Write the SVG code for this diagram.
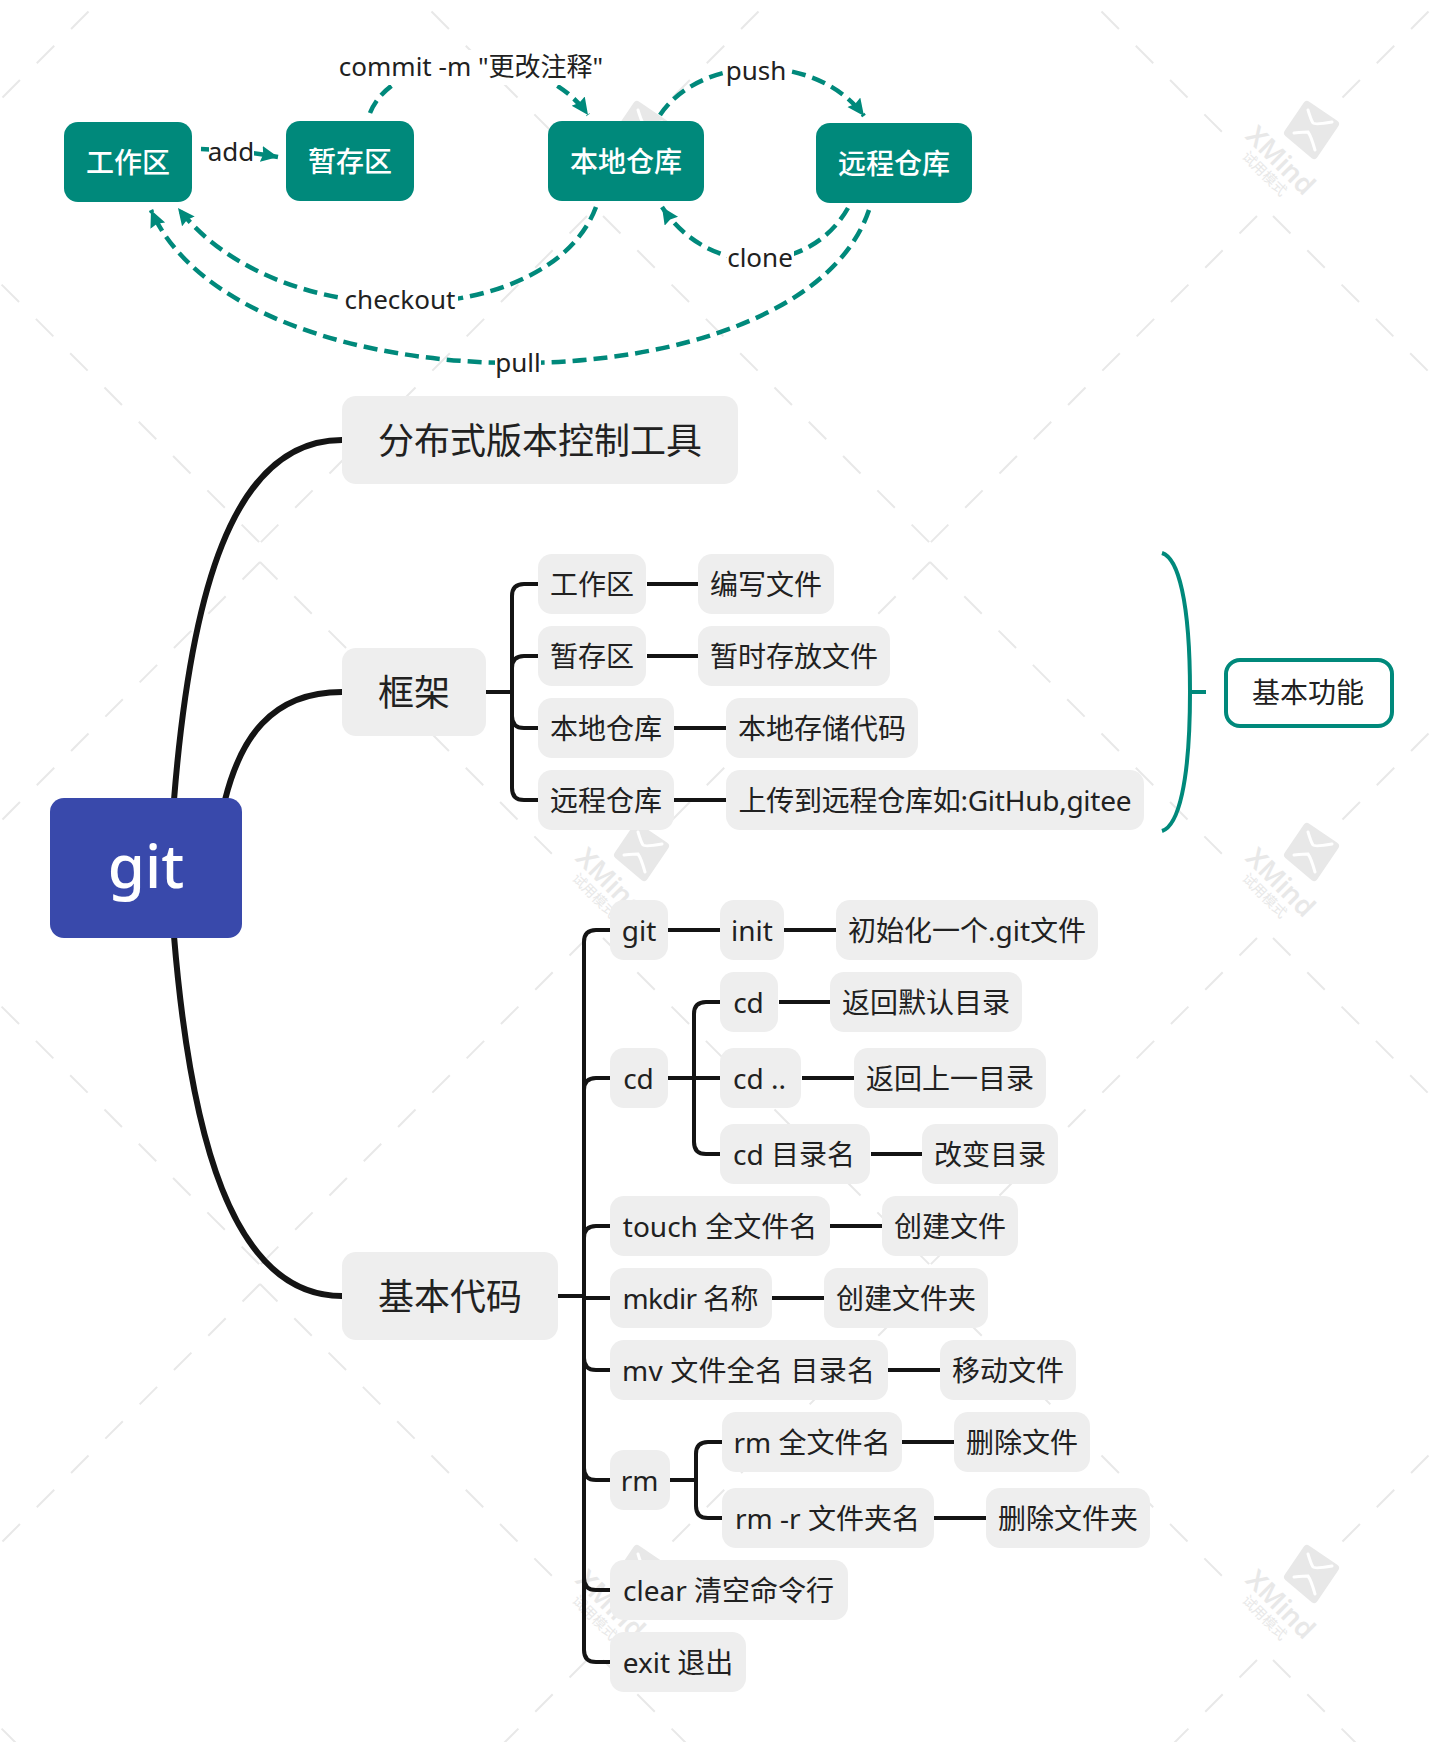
<svg xmlns="http://www.w3.org/2000/svg" xmlns:xlink="http://www.w3.org/1999/xlink" width="1442" height="1742" viewBox="0 0 1442 1742">
<style>
text{font-family:"Noto Sans","Noto Sans CJK SC",sans-serif;fill:#212121;text-anchor:middle}
.n{fill:#eeeeee}
.t{fill:#00897b}
.w{fill:#fff;font-size:28px;font-weight:500}
.s1{font-size:36px}
.s2{font-size:28px}
.w,.s1,.s2{transform:translateY(1px)}
.l{font-size:26px}
.bg{fill:#fff}
.c1{fill:none;stroke:#141414;stroke-width:6}
.c2{fill:none;stroke:#141414;stroke-width:4}
.rel{fill:none;stroke:#00897b;stroke-width:4.500;stroke-dasharray:14 7;marker-end:url(#arr)}
.d0{stroke:#e8e8e8;stroke-width:2;stroke-dasharray:24.7 23.8;fill:none}
.wt{fill:#e8e8e8;text-anchor:middle}
</style>
<defs>
<marker id="arr" markerUnits="userSpaceOnUse" markerWidth="20" markerHeight="18" refX="17" refY="8" orient="auto"><path d="M0,0L17,8L0,16L2,8Z" fill="#00897b"/></marker>
<g id="wm">
<line class="d0" x1="-335" y1="-336" x2="-43" y2="-44"/>
<line class="d0" x1="335" y1="-336" x2="77" y2="-78"/>
<line class="d0" x1="8" y1="40" x2="335" y2="367"/>
<line class="d0" x1="-8" y1="40" x2="-335" y2="367"/>
<path d="M42,-71L70,-52L49,-21L23,-43Z" fill="#e8e8e8" stroke="#e8e8e8" stroke-width="8" stroke-linejoin="round"/>
<path d="M43,-66Q46,-56 48,-53Q50,-51 67,-54M29,-43Q40,-44 43,-44Q46,-40 50,-26" fill="none" stroke="#fff" stroke-width="3" stroke-linecap="round"/>
<text class="wt" transform="translate(9,-9) rotate(45)" style="font-size:27px;font-weight:600;font-family:'Noto Sans',sans-serif">XMind</text>
<text class="wt" transform="translate(-4,1) rotate(45)" style="font-size:14px;font-family:'Noto Sans CJK SC',sans-serif">试用模式</text>
</g>
</defs>
<rect width="1442" height="1742" fill="#fff"/>
<g id="watermark">
<use xlink:href="#wm" href="#wm" x="-75" y="176"/><use xlink:href="#wm" href="#wm" x="595" y="176"/><use xlink:href="#wm" href="#wm" x="1265" y="176"/>
<use xlink:href="#wm" href="#wm" x="-75" y="898"/><use xlink:href="#wm" href="#wm" x="595" y="898"/><use xlink:href="#wm" href="#wm" x="1265" y="898"/>
<use xlink:href="#wm" href="#wm" x="-75" y="1620"/><use xlink:href="#wm" href="#wm" x="595" y="1620"/><use xlink:href="#wm" href="#wm" x="1265" y="1620"/>
</g>
<g id="connectors">
<path class="c1" d="M174,800C190,600 230,440 342,440"/>
<path class="c1" d="M225,800C240,740 270,692 342,692"/>
<path class="c1" d="M174,936C190,1130 230,1296 342,1296"/>
<path class="c2" d="M538,584H524Q512,584 512,596V788Q512,800 524,800H538M512,668Q512,656 524,656H538M512,716Q512,728 524,728H538M486,692H512"/>
<path class="c2" d="M647,584H698M647,656H698M674,728H726M674,800H726"/>
<path class="c2" d="M610,930H596Q584,930 584,942V1650Q584,1662 596,1662H610M584,1090Q584,1078 596,1078H610M584,1238Q584,1226 596,1226H610M558,1296H584M584,1298H610M584,1358Q584,1370 596,1370H610M584,1468Q584,1480 596,1480H610M584,1578Q584,1590 596,1590H610"/>
<path class="c2" d="M668,930H720M784,930H836"/>
<path class="c2" d="M720,1002H706Q694,1002 694,1014V1142Q694,1154 706,1154H720M668,1078H720M779,1002H830M802,1078H854M871,1154H922"/>
<path class="c2" d="M830,1226H882M772,1298H824M888,1370H940"/>
<path class="c2" d="M722,1442H708Q696,1442 696,1454V1506Q696,1518 708,1518H722M670,1480H696M902,1442H954M934,1518H986"/>
<path d="M1162,553C1178,558 1190,600 1190,692C1190,784 1178,826 1162,831M1190,692H1206" fill="none" stroke="#00897b" stroke-width="4"/>
</g>
<g id="relations">
<path class="rel" style="stroke-dasharray:none" d="M201,149Q240,150 278,157"/>
<path class="rel" d="M370,113C395,50 535,40 588,115"/>
<path class="rel" d="M660,115C700,55 815,50 864,116"/>
<path class="rel" d="M848,208C810,275 710,280 662,207"/>
<path class="rel" d="M596,207C550,330 280,340 178,208"/>
<path class="rel" d="M869,210C800,414 240,414 151,210"/>
<g id="label-add"><rect class="bg" x="209" y="138" width="45" height="28"/><text class="l" x="231" y="161">add</text></g>
<g id="label-commit"><rect class="bg" x="338" y="50" width="266" height="35"/><text class="l" x="471" y="76">commit -m "更改注释"</text></g>
<g id="label-push"><rect class="bg" x="726" y="56" width="61" height="32"/><text class="l" x="756" y="80">push</text></g>
<g id="label-clone"><rect class="bg" x="727" y="243" width="67" height="30"/><text class="l" x="760" y="267">clone</text></g>
<g id="label-checkout"><rect class="bg" x="344" y="285" width="114" height="30"/><text class="l" x="400" y="309">checkout</text></g>
<g id="label-pull"><rect class="bg" x="495" y="348" width="46" height="32"/><text class="l" x="518" y="372">pull</text></g>
</g>
<g id="n-workspace"><rect class="t" x="64" y="122" width="128" height="80" rx="14"/><text class="w" x="128" y="172">工作区</text></g>
<g id="n-stage"><rect class="t" x="286" y="121" width="128" height="80" rx="14"/><text class="w" x="350" y="171">暂存区</text></g>
<g id="n-local"><rect class="t" x="548" y="121" width="156" height="80" rx="14"/><text class="w" x="626" y="171">本地仓库</text></g>
<g id="n-remote"><rect class="t" x="816" y="123" width="156" height="80" rx="14"/><text class="w" x="894" y="173">远程仓库</text></g>
<g id="n-root"><rect x="50" y="798" width="192" height="140" rx="14" fill="#3949ab"/><text x="146" y="888" style="font-size:60px;font-weight:500;fill:#fff">git</text></g>
<g id="n-tool"><rect class="n" x="342" y="396" width="396" height="88" rx="14"/><text class="s1" x="540" y="453">分布式版本控制工具</text></g>
<g id="n-frame"><rect class="n" x="342" y="648" width="144" height="88" rx="14"/><text class="s1" x="414" y="705">框架</text></g>
<g id="n-code"><rect class="n" x="342" y="1252" width="216" height="88" rx="14"/><text class="s1" x="450" y="1309">基本代码</text></g>
<g id="n-f1"><rect class="n" x="538" y="554" width="108" height="60" rx="14"/><text class="s2" x="592" y="594">工作区</text></g>
<g id="n-f2"><rect class="n" x="538" y="626" width="108" height="60" rx="14"/><text class="s2" x="592" y="666">暂存区</text></g>
<g id="n-f3"><rect class="n" x="538" y="698" width="136" height="60" rx="14"/><text class="s2" x="606" y="738">本地仓库</text></g>
<g id="n-f4"><rect class="n" x="538" y="770" width="136" height="60" rx="14"/><text class="s2" x="606" y="810">远程仓库</text></g>
<g id="n-f1a"><rect class="n" x="698" y="554" width="136" height="60" rx="14"/><text class="s2" x="766" y="594">编写文件</text></g>
<g id="n-f2a"><rect class="n" x="698" y="626" width="192" height="60" rx="14"/><text class="s2" x="794" y="666">暂时存放文件</text></g>
<g id="n-f3a"><rect class="n" x="726" y="698" width="192" height="60" rx="14"/><text class="s2" x="822" y="738">本地存储代码</text></g>
<g id="n-f4a"><rect class="n" x="726" y="770" width="418" height="60" rx="14"/><text class="s2" x="935" y="810" textLength="393">上传到远程仓库如:GitHub,gitee</text></g>
<g id="n-basic"><rect x="1226" y="660" width="166" height="66" rx="14" fill="#fff" stroke="#00897b" stroke-width="4"/><text class="s2" x="1308" y="702">基本功能</text></g>
<g id="n-git"><rect class="n" x="610" y="900" width="58" height="60" rx="14"/><text class="s2" x="639" y="940">git</text></g>
<g id="n-init"><rect class="n" x="720" y="900" width="64" height="60" rx="14"/><text class="s2" x="752" y="940">init</text></g>
<g id="n-init-a"><rect class="n" x="836" y="900" width="262" height="60" rx="14"/><text class="s2" x="967" y="940">初始化一个.git文件</text></g>
<g id="n-cd"><rect class="n" x="610" y="1048" width="58" height="60" rx="14"/><text class="s2" x="638.500" y="1088">cd</text></g>
<g id="n-cd1"><rect class="n" x="720" y="972" width="58" height="60" rx="14"/><text class="s2" x="748.500" y="1012">cd</text></g>
<g id="n-cd1a"><rect class="n" x="830" y="972" width="192" height="60" rx="14"/><text class="s2" x="926" y="1012">返回默认目录</text></g>
<g id="n-cd2"><rect class="n" x="720" y="1048" width="81" height="60" rx="14"/><text class="s2" x="759.500" y="1088">cd ..</text></g>
<g id="n-cd2a"><rect class="n" x="854" y="1048" width="192" height="60" rx="14"/><text class="s2" x="950" y="1088">返回上一目录</text></g>
<g id="n-cd3"><rect class="n" x="720" y="1124" width="150" height="60" rx="14"/><text class="s2" x="794" y="1164">cd 目录名</text></g>
<g id="n-cd3a"><rect class="n" x="922" y="1124" width="136" height="60" rx="14"/><text class="s2" x="990" y="1164">改变目录</text></g>
<g id="n-touch"><rect class="n" x="610" y="1196" width="220" height="60" rx="14"/><text class="s2" x="720" y="1236">touch 全文件名</text></g>
<g id="n-touch-a"><rect class="n" x="882" y="1196" width="136" height="60" rx="14"/><text class="s2" x="950" y="1236">创建文件</text></g>
<g id="n-mkdir"><rect class="n" x="610" y="1268" width="162" height="60" rx="14"/><text class="s2" x="690.500" y="1308" textLength="136">mkdir 名称</text></g>
<g id="n-mkdir-a"><rect class="n" x="824" y="1268" width="164" height="60" rx="14"/><text class="s2" x="906" y="1308">创建文件夹</text></g>
<g id="n-mv"><rect class="n" x="610" y="1340" width="278" height="60" rx="14"/><text class="s2" x="748.500" y="1380" textLength="253">mv 文件全名 目录名</text></g>
<g id="n-mv-a"><rect class="n" x="940" y="1340" width="136" height="60" rx="14"/><text class="s2" x="1008" y="1380">移动文件</text></g>
<g id="n-rm"><rect class="n" x="610" y="1450" width="60" height="60" rx="14"/><text class="s2" x="639.500" y="1490">rm</text></g>
<g id="n-rm1"><rect class="n" x="722" y="1412" width="180" height="60" rx="14"/><text class="s2" x="812" y="1452">rm 全文件名</text></g>
<g id="n-rm1a"><rect class="n" x="954" y="1412" width="136" height="60" rx="14"/><text class="s2" x="1022" y="1452">删除文件</text></g>
<g id="n-rm2"><rect class="n" x="722" y="1488" width="212" height="60" rx="14"/><text class="s2" x="827.500" y="1528">rm -r 文件夹名</text></g>
<g id="n-rm2a"><rect class="n" x="986" y="1488" width="164" height="60" rx="14"/><text class="s2" x="1068" y="1528">删除文件夹</text></g>
<g id="n-clear"><rect class="n" x="610" y="1560" width="238" height="60" rx="14"/><text class="s2" x="728.500" y="1600">clear 清空命令行</text></g>
<g id="n-exit"><rect class="n" x="610" y="1632" width="136" height="60" rx="14"/><text class="s2" x="678" y="1672">exit 退出</text></g>
</svg>
